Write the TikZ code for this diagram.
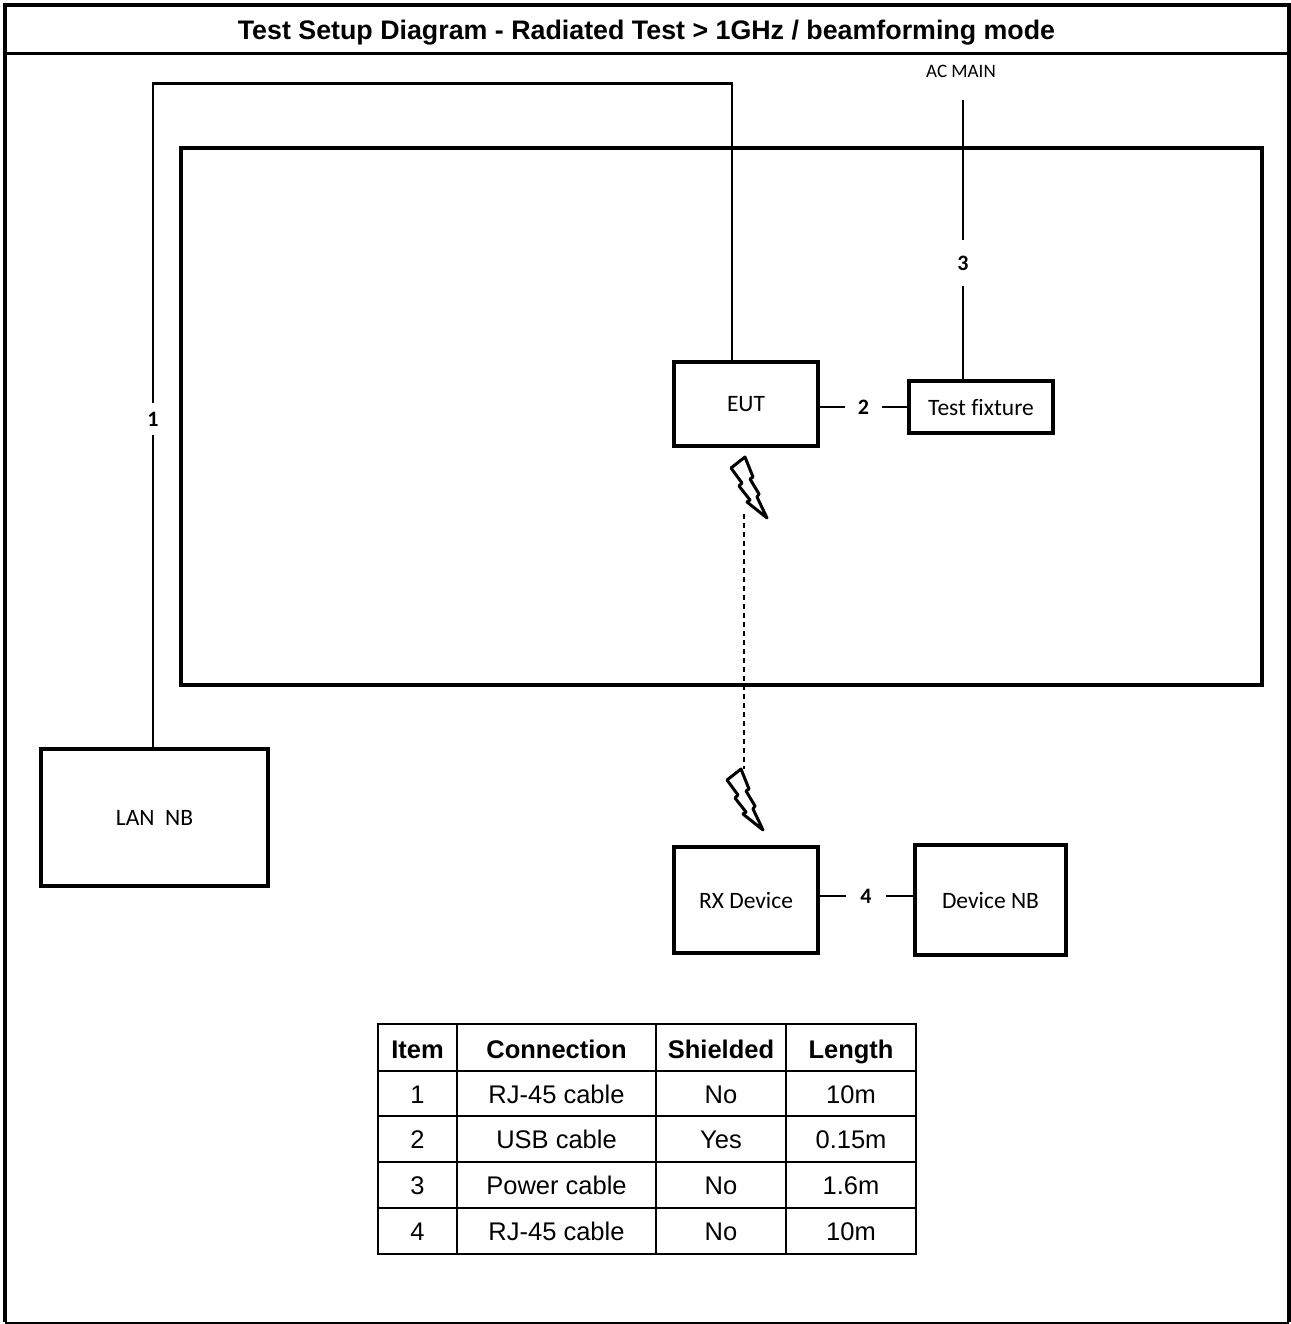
\documentclass[tikz,border=0pt]{standalone}
\usepackage{fontspec}
\setmainfont{Liberation Sans}
\newfontfamily\calfont[Ligatures=CommonOff]{Carlito}
\begin{document}
\begin{tikzpicture}[x=1pt,y=-1pt,
  box/.style={draw,line width=4pt,inner sep=0pt,font=\calfont\fontsize{23.5}{26}\selectfont},
  cable/.style={line width=2.8pt},
  num/.style={inner sep=0pt,font=\calfont\bfseries\fontsize{22}{24}\selectfont},
  cell/.style={inner sep=0pt,anchor=base,font=\fontsize{25.5}{28}\selectfont},
  head/.style={inner sep=0pt,anchor=base,font=\bfseries\fontsize{25.5}{28}\selectfont},
  grid/.style={line width=2.6pt},
  bolt/.pic={\draw[line width=3pt,line join=round,line cap=round]
     (0,0) -- (-14,11) -- (-3,26) -- (-6,29) -- (5,43) -- (2,45) -- (22,61)
     -- (12,40) -- (14,37) -- (5,22) -- (8,20) -- cycle;}]
\useasboundingbox (0,0) rectangle (1290,1324);
% frame
\draw[line width=4pt] (5,1322) -- (5,5) -- (1288.5,5) -- (1288.5,1322);
\draw[line width=2pt] (5,1322.5) -- (1288.5,1322.5);
\draw[line width=2.5pt] (5,53.5) -- (1288.5,53.5);
\node[inner sep=0pt,anchor=base,font=\bfseries\fontsize{26.8}{30}\selectfont] (title) at (646.5,40) {Test Setup Diagram - Radiated Test > 1GHz / beamforming mode};
% chamber
\draw[line width=4pt] (180.5,148.5) rectangle (1262,685);
% boxes
\node[box,minimum width=144,minimum height=84] (eut) at (746,404) {EUT};
\node[box,minimum width=144,minimum height=52] (tf) at (981,407) {Test fixture};
\node[box,minimum width=227,minimum height=137] (lan) at (154.5,817.5) {LAN\ \ NB};
\node[box,minimum width=144,minimum height=106] (rx) at (746,900) {RX Device};
\node[box,minimum width=151,minimum height=110] (dnb) at (990.5,900) {Device NB};
% AC main
\node[inner sep=0pt,font=\calfont\fontsize{19}{21}\selectfont] (ac) at (961,71) {AC MAIN};
\coordinate (acend) at (963,100);
% labels
\node[num,minimum height=31] (l1) at (153,419) {1};
\node[num,minimum width=37] (l2) at (863.5,407) {2};
\node[num,minimum height=45] (l3) at (963,263) {3};
\node[num,minimum width=40] (l4) at (866,896) {4};
\coordinate (c1top) at (732,83.5);
% cables
\draw[cable] (lan.north -| l1) -- (l1);
\draw[cable] (l1) |- (c1top) -- (c1top |- eut.north);
\draw[cable] (acend) -- (l3);
\draw[cable] (l3) -- (acend |- tf.north);
\draw[cable] (eut.east |- l2) -- (l2);
\draw[cable] (l2) -- (tf.west |- l2);
\draw[cable] (rx.east |- l4) -- (l4);
\draw[cable] (l4) -- (dnb.west |- l4);
% wireless
\pic at (745,457) {bolt};
\pic at (741,769) {bolt};
\coordinate (w1) at (744,514);
\coordinate (w2) at (744,769);
\draw[line width=1.5pt,dash pattern=on 5pt off 4pt] (w1) -- (w2);
% table
\foreach \x in {378,457,656,786,916} \draw[grid] (\x,1024) -- (\x,1254);
\foreach \y in {1024,1071,1116,1162,1208,1254} \draw[grid] (376.7,\y) -- (917.3,\y);
\node[head] (h1) at (417.5,1058) {Item};
\node[head] (h2) at (556.5,1058) {Connection};
\node[head] (h3) at (721,1058) {Shielded};
\node[head] (h4) at (851,1058) {Length};
\foreach \r/\y/\a/\b/\c in {1/1103/RJ-45 cable/No/10m,2/1148/USB cable/Yes/0.15m,3/1194/Power cable/No/1.6m,4/1240/RJ-45 cable/No/10m}{
  \node[cell] (r\r a) at (417.5,\y) {\r};
  \node[cell] (r\r b) at (556.5,\y) {\a};
  \node[cell] (r\r c) at (721,\y) {\b};
  \node[cell] (r\r d) at (851,\y) {\c};
}
\end{tikzpicture}
\end{document}
